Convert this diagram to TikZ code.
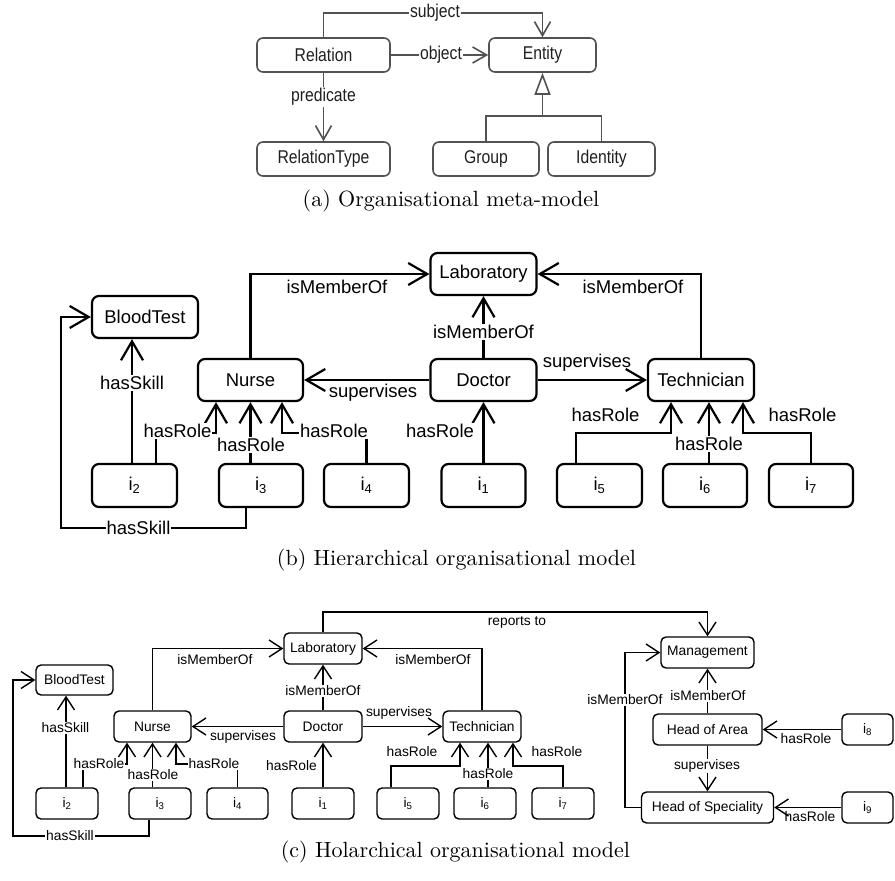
\documentclass[tikz,border=0pt]{standalone}
\usepackage{fontspec}
\usetikzlibrary{arrows.meta}
\newfontfamily\fa[FakeStretch=0.85]{Liberation Sans}
\newfontfamily\fb{Liberation Sans}
\font\capfont="[lmroman10-regular]:+tlig;" at 22pt
\begin{document}
\begin{tikzpicture}[x=1pt,y=-1pt,
  boxa/.style={draw=black!68, line width=1.6pt, rounded corners=6pt, minimum height=34pt, inner sep=0pt, text=black!88, font=\fa\fontsize{18.5}{22}\selectfont},
  lbla/.style={fill=white, inner sep=1pt, text=black!88, font=\fa\fontsize{18.5}{22}\selectfont},
  lna/.style={draw=black!68, line width=1.6pt},
  arrA/.style={-{Straight Barb[length=14pt,width=16pt]}},
  boxb/.style={draw, line width=2.2pt, rounded corners=7pt, minimum height=42pt, inner sep=0pt, font=\fb\fontsize{18.5}{22}\selectfont},
  lblb/.style={fill=white, inner sep=1pt, font=\fb\fontsize{18.5}{22}\selectfont},
  lnb/.style={draw, line width=2.2pt},
  arrB/.style={-{Straight Barb[length=19pt,width=22pt]}},
  boxc/.style={draw, line width=1.4pt, rounded corners=5pt, minimum height=31pt, inner sep=0pt, font=\fb\fontsize{13.8}{16}\selectfont},
  lblc/.style={fill=white, inner sep=0.8pt, font=\fb\fontsize{13.8}{16}\selectfont},
  lnc/.style={draw, line width=1.4pt},
  arrC/.style={-{Straight Barb[length=13pt,width=17pt]}},
  captxt/.style={anchor=base, inner sep=0pt, font=\capfont}
]
\useasboundingbox (0,0) rectangle (895,881);

% ---------- (a) ----------
\node[boxa, minimum width=133pt] (relation) at (323.5,55) {Relation};
\node[boxa, minimum width=107pt] (entity) at (542.5,55) {Entity};
\node[boxa, minimum width=133pt] (reltype) at (323.5,159) {RelationType};
\node[boxa, minimum width=106pt] (group) at (486,159) {Group};
\node[boxa, minimum width=107pt] (identity) at (601.5,159) {Identity};
\coordinate (subj) at (542.5,13);
\coordinate (gen) at (542.5,116);
\draw[lna, arrA] (relation.north) |- (subj) -- (entity.north);
\draw[lna, arrA] (relation) -- (entity);
\draw[lna, arrA] (relation) -- (reltype);
\draw[lna, -{Triangle[open, length=22pt, width=16pt]}] (gen) -- (entity.south);
\draw[lna] (group.north) |- (gen) -| (identity.north);
\node[lbla] (lsubj) at (435,13) {subject};
\node[lbla] (lobj) at (441,55) {object};
\node[lbla] (lpred) at (323.5,97) {predicate};
\node[captxt] (capa) at (451,206) {(a) Organisational meta-model};

% ---------- (b) ----------
\node[boxb, minimum width=106pt] (bloodB) at (145,317) {BloodTest};
\node[boxb, minimum width=105pt] (nurseB) at (250.5,380) {Nurse};
\node[boxb, minimum width=106pt] (labB) at (483.5,274) {Laboratory};
\node[boxb, minimum width=106pt] (doctorB) at (483.5,380) {Doctor};
\node[boxb, minimum width=106pt] (techB) at (701,380) {Technician};
\node[boxb, minimum width=85pt, minimum height=43pt] (i2B) at (134.5,485.5) {i\textsubscript{2}};
\node[boxb, minimum width=84pt, minimum height=43pt] (i3B) at (261,485.5) {i\textsubscript{3}};
\node[boxb, minimum width=85pt, minimum height=43pt] (i4B) at (366.5,485.5) {i\textsubscript{4}};
\node[boxb, minimum width=84pt, minimum height=43pt] (i1B) at (483.5,485.5) {i\textsubscript{1}};
\node[boxb, minimum width=85pt, minimum height=43pt] (i5B) at (599.5,485.5) {i\textsubscript{5}};
\node[boxb, minimum width=84pt, minimum height=43pt] (i6B) at (705,485.5) {i\textsubscript{6}};
\node[boxb, minimum width=84pt, minimum height=43pt] (i7B) at (811,485.5) {i\textsubscript{7}};
\coordinate (skB) at (61,528);
\coordinate (rB1) at (216,433);
\coordinate (rB3) at (282,433);
\coordinate (rB5) at (671,433);
\coordinate (rB7) at (743,433);
\draw[lnb, arrB] (nurseB.north) |- (labB.west);
\draw[lnb, arrB] (techB.north) |- (labB.east);
\draw[lnb, arrB] (doctorB) -- (labB);
\draw[lnb, arrB] (doctorB) -- (nurseB);
\draw[lnb, arrB] (doctorB) -- (techB);
\draw[lnb, arrB] ([xshift=-2.5pt]i2B.north) -- ([xshift=-2.5pt]i2B.north |- bloodB.south);
\draw[lnb, arrB] ([xshift=-15pt]i3B.south) |- (skB) |- (bloodB.west);
\draw[lnb, arrB] ([xshift=21.5pt]i2B.north) |- (rB1) -- (rB1 |- nurseB.south);
\draw[lnb, arrB] (i3B.north -| nurseB.south) -- (nurseB.south);
\draw[lnb, arrB] (i4B.north) |- (rB3) -- (rB3 |- nurseB.south);
\draw[lnb, arrB] (i1B) -- (doctorB);
\draw[lnb, arrB] ([xshift=-23.5pt]i5B.north) |- (rB5) -- (rB5 |- techB.south);
\draw[lnb, arrB] ([xshift=4pt]i6B.north) -- ([xshift=4pt]i6B.north |- techB.south);
\draw[lnb, arrB] (i7B.north) |- (rB7) -- (rB7 |- techB.south);
\node[lblb] (lb1) at (337,287) {isMemberOf};
\node[lblb] (lb2) at (633,287) {isMemberOf};
\node[lblb] (lb3) at (483.5,332) {isMemberOf};
\node[lblb] (lb4) at (373,393) {supervises};
\node[lblb, fill=none] (lb5) at (587,363) {supervises};
\node[lblb] (lb6) at (132,383) {hasSkill};
\node[lblb] (lb7) at (138.5,528) {hasSkill};
\node[lblb] (lb8) at (177.5,431) {hasRole};
\node[lblb] (lb9) at (251,445) {hasRole};
\node[lblb] (lb10) at (334,431) {hasRole};
\node[lblb] (lb11) at (440,431) {hasRole};
\node[lblb] (lb12) at (605.5,415) {hasRole};
\node[lblb] (lb13) at (709,444) {hasRole};
\node[lblb] (lb14) at (802.5,415) {hasRole};
\node[captxt] (capb) at (456.5,565) {(b) Hierarchical organisational model};

% ---------- (c) ----------
\node[boxc, minimum width=77pt, minimum height=30pt] (bloodC) at (74.5,680) {BloodTest};
\node[boxc, minimum width=77pt] (nurseC) at (152.5,726.5) {Nurse};
\node[boxc, minimum width=78pt] (labC) at (323,648.5) {Laboratory};
\node[boxc, minimum width=78pt] (doctorC) at (323,726.5) {Doctor};
\node[boxc, minimum width=78pt] (techC) at (482,726.5) {Technician};
\node[boxc, minimum width=62pt] (i2C) at (67,803.5) {i\textsubscript{2}};
\node[boxc, minimum width=62pt] (i3C) at (160,803.5) {i\textsubscript{3}};
\node[boxc, minimum width=61pt] (i4C) at (237.5,803.5) {i\textsubscript{4}};
\node[boxc, minimum width=62pt] (i1C) at (323,803.5) {i\textsubscript{1}};
\node[boxc, minimum width=62pt] (i5C) at (408,803.5) {i\textsubscript{5}};
\node[boxc, minimum width=62pt] (i6C) at (485,803.5) {i\textsubscript{6}};
\node[boxc, minimum width=62pt] (i7C) at (563,803.5) {i\textsubscript{7}};
\node[boxc, minimum width=93pt] (mgmtC) at (707.5,652.5) {Management};
\node[boxc, minimum width=109pt] (hoaC) at (707.5,729.5) {Head of Area};
\node[boxc, minimum width=132pt] (hosC) at (707.5,807.5) {Head of Speciality};
\node[boxc, minimum width=51pt] (i8C) at (867.5,729.5) {i\textsubscript{8}};
\node[boxc, minimum width=51pt] (i9C) at (867.5,807.5) {i\textsubscript{9}};
\coordinate (repC) at (707.5,612);
\coordinate (skC) at (13,836);
\coordinate (rC1) at (127,764);
\coordinate (rC3) at (176,764);
\coordinate (rC5) at (460,766);
\coordinate (rC7) at (513,766);
\coordinate (mC) at (625,652.5);
\draw[lnc, arrC] (nurseC.north) |- (labC.west);
\draw[lnc, arrC] (techC.north) |- (labC.east);
\draw[lnc, arrC] (doctorC) -- (labC);
\draw[lnc, arrC] (doctorC) -- (nurseC);
\draw[lnc, arrC] (doctorC) -- (techC);
\draw[lnc, arrC] (labC.north) |- (repC) -- (mgmtC.north);
\draw[lnc, arrC] ([xshift=-1pt]i2C.north) -- ([xshift=-1pt]i2C.north |- bloodC.south);
\draw[lnc, arrC] ([xshift=-11pt]i3C.south) |- (skC) |- (bloodC.west);
\draw[lnc, arrC] ([xshift=16pt]i2C.north) |- (rC1) -- (rC1 |- nurseC.south);
\draw[lnc, arrC] (i3C.north -| nurseC.south) -- (nurseC.south);
\draw[lnc, arrC] (i4C.north) |- (rC3) -- (rC3 |- nurseC.south);
\draw[lnc, arrC] (i1C) -- (doctorC);
\draw[lnc, arrC] ([xshift=-17pt]i5C.north) |- (rC5) -- (rC5 |- techC.south);
\draw[lnc, arrC] ([xshift=3pt]i6C.north) -- ([xshift=3pt]i6C.north |- techC.south);
\draw[lnc, arrC] (i7C.north) |- (rC7) -- (rC7 |- techC.south);
\draw[lnc, arrC] (hoaC) -- (mgmtC);
\draw[lnc, arrC] (hosC.west) -| (mC) -- (mgmtC.west);
\draw[lnc, arrC] (hoaC) -- (hosC);
\draw[lnc, arrC] (i8C) -- (hoaC);
\draw[lnc, arrC] (i9C) -- (hosC);
\node[lblc] (lc1) at (215,660) {isMemberOf};
\node[lblc] (lc2) at (433,660) {isMemberOf};
\node[lblc] (lc3) at (323,691) {isMemberOf};
\node[lblc] (lc4) at (243,737) {supervises};
\node[lblc, fill=none] (lc5) at (399,713) {supervises};
\node[lblc] (lc6) at (65.5,728) {hasSkill};
\node[lblc] (lc7) at (70,836) {hasSkill};
\node[lblc] (lc8) at (99,764) {hasRole};
\node[lblc] (lc9) at (153,775) {hasRole};
\node[lblc] (lc10) at (214,764) {hasRole};
\node[lblc] (lc11) at (291.5,766) {hasRole};
\node[lblc] (lc12) at (412,752) {hasRole};
\node[lblc] (lc13) at (488,774) {hasRole};
\node[lblc] (lc14) at (557,752) {hasRole};
\node[lblc] (lc15) at (517,622) {reports to};
\node[lblc] (lc16) at (708,696) {isMemberOf};
\node[lblc] (lc17) at (625,700) {isMemberOf};
\node[lblc] (lc18) at (707,766) {supervises};
\node[lblc, fill=none] (lc19) at (806,739) {hasRole};
\node[lblc, fill=none] (lc20) at (810,817) {hasRole};
\node[captxt] (capc) at (455.5,857) {(c) Holarchical organisational model};
\end{tikzpicture}
\end{document}
